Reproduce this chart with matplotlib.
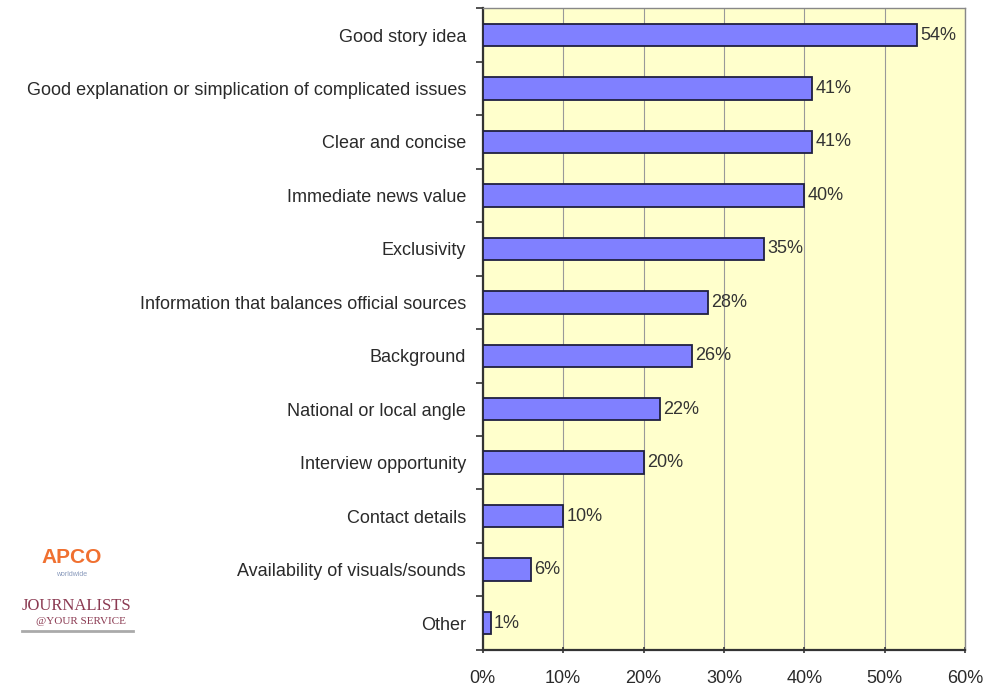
import matplotlib.pyplot as plt
from matplotlib.ticker import MultipleLocator, FuncFormatter

plt.rcParams['font.family'] = ['Liberation Sans', 'DejaVu Sans']

categories = [
    "Good story idea",
    "Good explanation or simplication of complicated issues",
    "Clear and concise",
    "Immediate news value",
    "Exclusivity",
    "Information that balances official sources",
    "Background",
    "National or local angle",
    "Interview opportunity",
    "Contact details",
    "Availability of visuals/sounds",
    "Other",
]
values = [54, 41, 41, 40, 35, 28, 26, 22, 20, 10, 6, 1]

fig = plt.figure(figsize=(9.85, 6.92), dpi=100)
ax = fig.add_axes([0.490, 0.061, 0.490, 0.927])
ax.set_facecolor('#FFFFCC')

pos = list(range(len(categories)))[::-1]
ax.barh(pos, values, height=0.42, color='#8080FF', edgecolor='#202040', linewidth=1.3, zorder=3)

for y, v in zip(pos, values):
    ax.text(v + 0.4, y, f"{v}%", va='center', ha='left', fontsize=13, color='#333333')

ax.set_xlim(0, 60)
ax.set_ylim(-0.5, len(categories) - 0.5)
ax.xaxis.set_major_locator(MultipleLocator(10))
ax.xaxis.set_major_formatter(FuncFormatter(lambda x, _: f"{int(x)}%"))
ax.grid(axis='x', color='#999999', linewidth=0.8, zorder=0)

ax.set_yticks(pos)
ax.set_yticklabels(categories, fontsize=13, color='#2a2a2a')
ax.tick_params(axis='y', which='major', length=0, pad=12)
ax.set_yticks([p + 0.5 for p in range(-1, len(categories))], minor=True)
ax.tick_params(axis='y', which='minor', length=5, width=1.2, color='#333333')
ax.tick_params(axis='x', length=5, width=1.2, color='#333333', labelsize=13,
               labelcolor='#2a2a2a', pad=12, direction='inout')

for side in ('left', 'bottom'):
    ax.spines[side].set_color('#333333')
    ax.spines[side].set_linewidth(1.6)
for side in ('top', 'right'):
    ax.spines[side].set_color('#888888')
    ax.spines[side].set_linewidth(1.0)

# logos in the lower left corner
fig.text(0.073, 0.187, "APCO", color='#F07030', fontsize=15, fontweight='bold', ha='center')
fig.text(0.073, 0.168, "worldwide", color='#8899BB', fontsize=5, ha='center')
fig.text(0.078, 0.118, "JOURNALISTS", color='#8B3A52', fontsize=12, ha='center',
         family='Liberation Serif')
fig.text(0.082, 0.098, "@YOUR SERVICE", color='#8B3A52', fontsize=8, ha='center',
         family='Liberation Serif')
fig.add_artist(plt.Line2D([0.022, 0.135], [0.088, 0.088], color='#AAAAAA', linewidth=2))

fig.savefig('out.png', dpi=100)
